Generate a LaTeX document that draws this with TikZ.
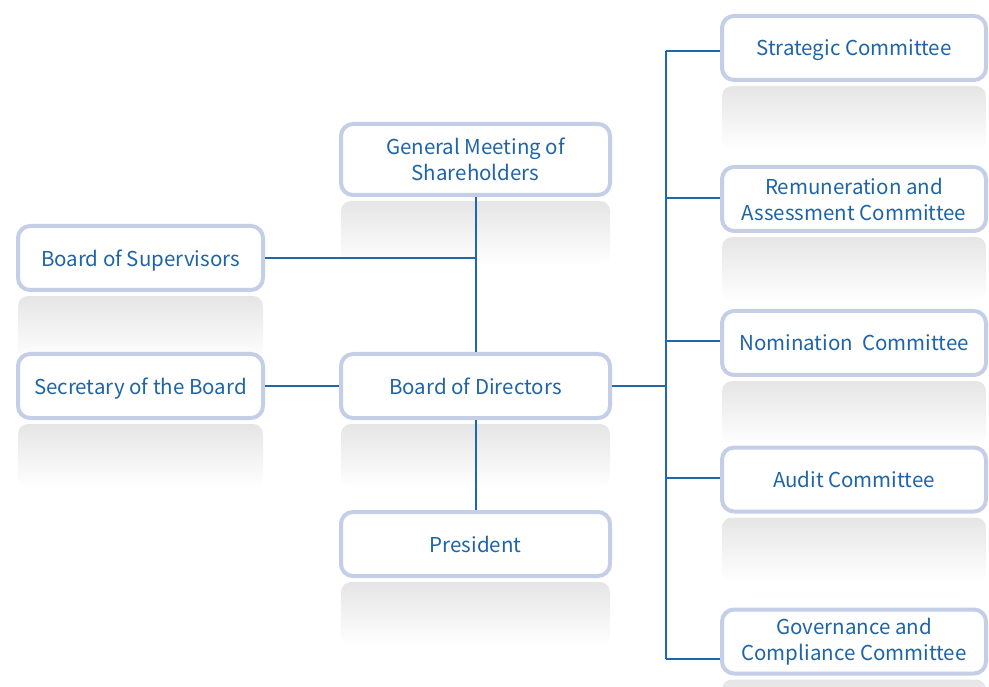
\documentclass[tikz,border=0pt]{standalone}
\usepackage{fontspec}
\setmainfont{Noto Sans CJK SC}
\usetikzlibrary{backgrounds}
\definecolor{linkblue}{HTML}{1F68AD}
\definecolor{framegray}{HTML}{C4CEE6}
\definecolor{textblue}{HTML}{1F64A6}
\tikzstyle{unit}=[rectangle, rounded corners=12pt, draw=framegray, line width=4pt,
  fill=white, text=textblue, align=center, inner sep=0pt,
  minimum height=64pt, font=\fontsize{20.5}{26}\selectfont]
\tikzstyle{oneline}=[text depth=0pt]
\tikzstyle{link}=[draw=linkblue, line width=2pt]
\newcommand{\unit}{\node[unit]}
\newcommand{\mirror}[1]{\shade[top color=black!10, bottom color=white, rounded corners=10pt]
  ([xshift=2pt,yshift=-4pt]#1.south west) rectangle ([xshift=-2pt,yshift=-68pt]#1.south east);}

\begin{document}
\begin{tikzpicture}[x=1pt, y=-1pt]
\useasboundingbox (0,0) rectangle (989,687);
% centre column
\unit[minimum width=269pt, minimum height=71pt] (gms) at (475.5,159.5) {General Meeting of\\Shareholders};
\unit[oneline, minimum width=269pt] (bod) at (475.5,386) {Board of Directors};
\unit[oneline, minimum width=269pt] (pres) at (475.5,544) {President};
% left column
\unit[oneline, minimum width=245pt] (sup) at (140.5,258) {Board of Supervisors};
\unit[oneline, minimum width=245pt] (sec) at (140.5,386) {Secretary of the Board};
% committees
\unit[oneline, minimum width=264pt] (strat) at (854,48) {Strategic Committee};
\unit[minimum width=264pt] (remu) at (854,199) {Remuneration and\\Assessment Committee};
\unit[oneline, minimum width=264pt] (nomi) at (854,343) {Nomination~~Committee};
\unit[oneline, minimum width=264pt] (audit) at (854,479.5) {Audit Committee};
\unit[minimum width=264pt] (gov) at (854,641.5) {Governance and\\Compliance Committee};

\begin{scope}[on background layer]
\mirror{gms} \mirror{bod} \mirror{pres}
\mirror{sup} \mirror{sec}
\mirror{strat} \mirror{remu} \mirror{nomi} \mirror{audit} \mirror{gov}
\end{scope}

\coordinate (trunk) at (666,386);
\coordinate (ctop) at (666,51);
\coordinate (cbot) at (666,659);
\coordinate (cremu) at (666,198);
\coordinate (cnomi) at (666,341);
\coordinate (caudit) at (666,478);

\draw[link] (gms) -- (bod);
\draw[link] (bod) -- (pres);
\draw[link] (sup) -- (sup -| gms);
\draw[link] (sec) -- (bod);
\draw[link] (bod) -- (trunk);
\draw[link] (ctop) -- (cbot);
\draw[link] (ctop) -- (ctop -| strat.west);
\draw[link] (cremu) -- (cremu -| remu.west);
\draw[link] (cnomi) -- (cnomi -| nomi.west);
\draw[link] (caudit) -- (caudit -| audit.west);
\draw[link] (cbot) -- (cbot -| gov.west);
\end{tikzpicture}
\end{document}
